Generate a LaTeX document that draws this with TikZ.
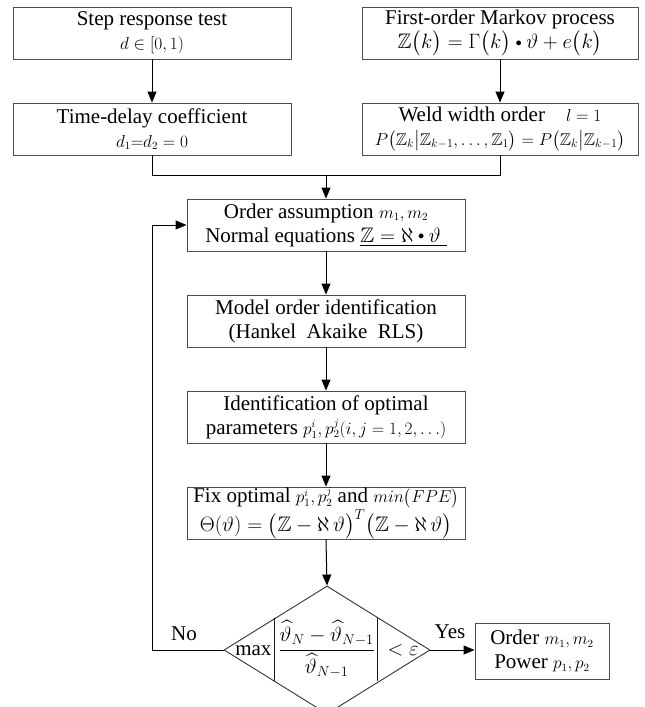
\documentclass[tikz,border=0pt]{standalone}
\usepackage{amsmath,amssymb}
\usepackage{fontspec}
\setmainfont{Liberation Serif}
\usetikzlibrary{arrows.meta,shapes.geometric}
\newcommand\smm{\fontsize{16}{19}\selectfont}
\newcommand\smb{\fontsize{17}{20}\selectfont}
\newcommand\sbul{\mathbin{\vcenter{\hbox{\scalebox{0.6}{$\bullet$}}}}}
\begin{document}
\begin{tikzpicture}[x=1pt,y=-1pt,
  box/.style={draw=black!70, line width=0.9pt, minimum width=278pt, minimum height=52pt,
    inner sep=0pt, align=center, font=\fontsize{21}{24}\selectfont},
  conn/.style={line width=1pt, -{Triangle[length=11pt,width=9pt]}},
  plain/.style={line width=1pt},
  lab/.style={font=\fontsize{21}{24}\selectfont, inner sep=0pt}]
\useasboundingbox (0,0) rectangle (645,707);
\node[box] (b1) at (152,33) {Step response test\\ {\smm$d\in[0,1)$}};
\node[box] (b2) at (152,129) {Time-delay coefficient\\ {\smm$d_1{=}d_2=0$}};
\node[box, minimum width=276pt] (b3) at (500,33) {First-order Markov process\\
  $\mathbb{Z}\big(k\big)=\Gamma\big(k\big)\sbul\vartheta+e\big(k\big)$};
\node[box, minimum width=276pt] (b4) at (500,129) {Weld width order\quad{\smm$l=1$}\\
  {\smb$P\big(\mathbb{Z}_k\big|\mathbb{Z}_{k-1},\ldots,\mathbb{Z}_1\big)=P\big(\mathbb{Z}_k\big|\mathbb{Z}_{k-1}\big)$}};
\node[box] (b5) at (326,225) {Order assumption {\smm$m_1,m_2$}\\
  Normal equations \underline{$\mathbb{Z}=\aleph\sbul\vartheta\;$}};
\node[box] (b6) at (326,321) {Model order identification\\ (Hankel~ Akaike~ RLS)};
\node[box] (b7) at (326,417) {Identification of optimal\\
  parameters {\smm$p_1^i,p_2^j(i,j=1,2,\ldots)$}};
\node[box] (b8) at (326,513) {Fix optimal {\smm$p_1^i,p_2^j$} and {\smm$min\big(FPE\big)$}\\
  $\Theta(\vartheta)=\big(\mathbb{Z}-\aleph\,\vartheta\big)^T\big(\mathbb{Z}-\aleph\,\vartheta\big)$};
\node[draw=black!80, line width=0.9pt, shape=diamond, aspect=1.61, inner sep=0pt,
  minimum width=206pt, minimum height=128pt] (dec) at (327,650) {};
\node[lab] (form) at (dec.center) {max$\left|\dfrac{\widehat{\vartheta}_N-\widehat{\vartheta}_{N-1}}{\widehat{\vartheta}_{N-1}}\right|<\varepsilon$};
\node[box, minimum width=134pt, minimum height=56pt] (out) at (542,651) {Order {\smm$m_1,m_2$}\\ Power {\smm$p_1,p_2$}};
\coordinate (m) at (326,175);
\coordinate (fb) at (152,650);
\draw[conn] (b1) -- (b2);
\draw[conn] (b3) -- (b4);
\draw[plain] (b2.south) |- (m);
\draw[plain] (b4.south) |- (m);
\draw[conn] (m) -- (b5.north);
\draw[conn] (b5) -- (b6);
\draw[conn] (b6) -- (b7);
\draw[conn] (b7) -- (b8);
\draw[conn] (b8.south) -- (dec.north);
\draw[conn] (dec.east) -- (out.west |- dec.east);
\draw[conn] (dec.west) -- (fb) |- (b5.west);
\node[lab] (no) at (184,634) {No};
\node[lab] (yes) at (450,632) {Yes};
\end{tikzpicture}
\end{document}
